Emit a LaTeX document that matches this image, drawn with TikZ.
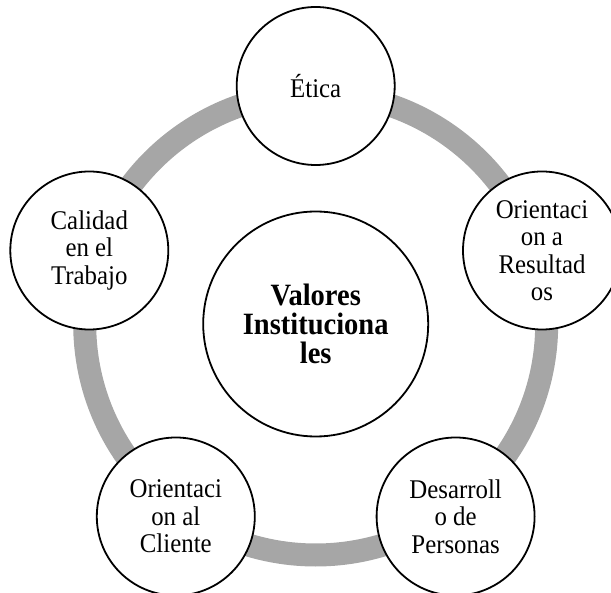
\documentclass[tikz,border=0pt]{standalone}
\usepackage{fontspec}
\setmainfont[FakeStretch=0.92]{Liberation Serif}
\definecolor{ringgray}{RGB}{166,166,166}
\begin{document}
\begin{tikzpicture}[x=1pt,y=-1pt,
  value/.style={circle, draw=black, line width=1.8pt, fill=white,
    minimum size=158pt, inner sep=0pt, align=center,
    font=\fontsize{27}{27.5}\selectfont},
  hub/.style={circle, draw=black, line width=1.8pt, fill=white,
    minimum size=225pt, inner sep=0pt, align=center,
    font=\fontsize{31}{29}\selectfont\bfseries},
  ring/.style={draw=ringgray, line width=23pt}]
  \useasboundingbox (0,0) rectangle (611,593);
  \coordinate (c) at (315.7,324);
  % cycle ring behind the value circles
  \draw[ring] (c) circle[radius=231];
  % central circle
  \node[hub] (hubnode) at (c) {Valores\\Instituciona\\les};
  % the five values around the cycle
  \node[value] (etica) at (315.7,86) {Ética};
  \node[value] (resultados) at (542,250.5) {Orientaci\\on a\\Resultad\\os};
  \node[value] (personas) at (455.6,516.5) {Desarroll\\o de\\Personas};
  \node[value] (cliente) at (175.8,516.5) {Orientaci\\on al\\Cliente};
  \node[value] (calidad) at (89.3,250.5) {Calidad\\en el\\Trabajo};
\end{tikzpicture}
\end{document}
